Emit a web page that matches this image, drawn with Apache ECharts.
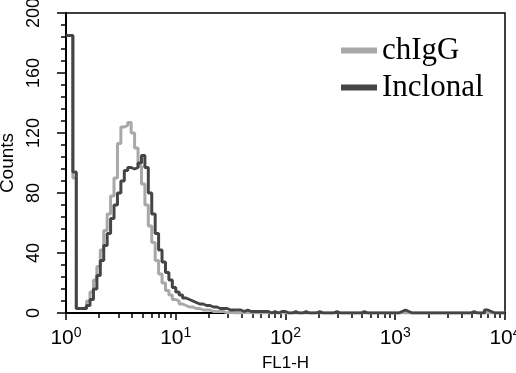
<!DOCTYPE html>
<html>
<head>
<meta charset="utf-8">
<script src="https://cdn.jsdelivr.net/npm/echarts@6/dist/echarts.min.js"></script>
<style>
  html, body { margin: 0; padding: 0; background: #fff; }
  #chart { width: 516px; height: 373px; }
</style>
</head>
<body>
<div id="chart"></div>
<script>
// FL1-H histogram, 128 channels over 4 log decades (1 .. 10^4)
var channelsPerDecade = 32;

var seriesNames = ['chIgG', 'Inclonal'];

var chIgG = [
  185, 185, 90, 3, 3, 4, 8, 14, 22, 31,
  42, 55, 66, 78, 90, 113, 124, 125, 127, 120,
  110, 98, 86, 72, 58, 47, 35, 26, 20, 15,
  12, 9, 8, 6, 5, 4, 4, 3, 3, 2,
  2, 2, 1, 1, 1, 1, 0, 1, 0, 0,
  0, 0, 1, 0, 0, 0, 0, 0, 0, 0,
  0, 0, 0, 0, 0, 0, 0, 0, 0, 0,
  0, 0, 0, 0, 0, 0, 0, 0, 0, 0,
  0, 0, 0, 0, 0, 0, 0, 0, 0, 0,
  0, 0, 0, 0, 0, 0, 0, 0, 0, 0,
  0, 0, 0, 0, 0, 0, 0, 0, 0, 0,
  0, 0, 0, 0, 0, 0, 0, 0, 0, 0,
  0, 0, 0, 0, 0, 0, 0, 0
];

var inclonal = [
  185, 185, 94, 3, 3, 3, 5, 9, 16, 25,
  35, 45, 53, 63, 72, 80, 88, 95, 97, 96,
  97, 100, 105, 97, 80, 66, 53, 42, 34, 27,
  22, 17, 14, 12, 10, 9, 8, 7, 6, 6,
  5, 5, 4, 4, 3, 3, 3, 2, 2, 2,
  2, 1, 2, 1, 1, 1, 1, 1, 1, 0,
  1, 0, 1, 1, 0, 0, 1, 0, 0, 1,
  0, 0, 0, 1, 0, 0, 0, 0, 1, 0,
  0, 0, 0, 0, 0, 0, 1, 0, 0, 0,
  0, 0, 0, 0, 0, 0, 0, 1, 2, 1,
  0, 0, 0, 0, 0, 0, 0, 0, 0, 0,
  0, 0, 0, 0, 0, 0, 0, 0, 1, 0,
  0, 0, 2, 1, 0, 0, 0, 0
];

var decadeTicks = [1, 10, 100, 1000, 10000];
var minorTicks = [];
decadeTicks.slice(0, 4).forEach(function (d) {
  for (var k = 2; k <= 9; k++) minorTicks.push(d * k);
});

// channel -> FL1 value (left edge of each channel), plus a closing point
function toPoints(counts) {
  var pts = counts.map(function (c, i) {
    return [Math.pow(10, i / channelsPerDecade), c];
  });
  pts.push([Math.pow(10, counts.length / channelsPerDecade), counts[counts.length - 1]]);
  return pts;
}

var myChart = echarts.init(document.getElementById('chart'));

var labelFont = 'Liberation Sans';

var option = {
  animation: false,
  grid: {
    left: 66, right: 11, top: 13, bottom: 60,
    outerBoundsMode: 'none',
    containLabel: false,
    show: true, borderColor: '#000', borderWidth: 1.5, backgroundColor: 'transparent'
  },
  legend: {
    orient: 'vertical',
    left: 336,
    top: 30,
    icon: 'rect',
    itemWidth: 36,
    itemHeight: 6,
    itemGap: 6,
    data: seriesNames,
    textStyle: { fontFamily: 'Liberation Serif', fontSize: 31, color: '#000' }
  },
  xAxis: [{
    type: 'log',
    logBase: 10,
    min: 1,
    max: 10000,
    name: 'FL1-H',
    nameLocation: 'middle',
    nameGap: 42,
    nameTextStyle: { fontFamily: labelFont, fontSize: 17, color: '#000' },
    axisLine: { lineStyle: { color: '#000', width: 2 } },
    axisTick: { show: true, length: 7, lineStyle: { color: '#000', width: 1.5 }, customValues: decadeTicks },
    axisLabel: {
      customValues: decadeTicks,
      margin: 13,
      formatter: function (v) {
        return '{b|10}{s|' + Math.round(Math.log10(v)) + '}';
      },
      rich: {
        b: { fontFamily: labelFont, fontSize: 21, color: '#000', lineHeight: 23, verticalAlign: 'bottom' },
        s: { fontFamily: labelFont, fontSize: 14, color: '#000', lineHeight: 14, verticalAlign: 'top' }
      }
    },
    splitLine: { show: false }
  }, {
    type: 'log',
    logBase: 10,
    min: 1,
    max: 10000,
    position: 'bottom',
    axisLine: { show: false },
    axisTick: { show: true, length: 5, lineStyle: { color: '#000', width: 1.5 }, customValues: minorTicks },
    axisLabel: { show: false },
    splitLine: { show: false }
  }],
  yAxis: {
    type: 'value',
    min: 0,
    max: 200,
    interval: 40,
    name: 'Counts',
    nameLocation: 'middle',
    nameGap: 44,
    nameRotate: 90,
    nameTextStyle: { fontFamily: labelFont, fontSize: 19, color: '#000' },
    axisLine: { show: true, lineStyle: { color: '#000', width: 2 } },
    axisTick: { show: true, length: 9, lineStyle: { color: '#000', width: 1.5 } },
    minorTick: { show: true, splitNumber: 5, length: 5, lineStyle: { color: '#000', width: 1.5 } },
    axisLabel: {
      rotate: 90,
      margin: 23,
      fontFamily: labelFont,
      fontSize: 18,
      color: '#000'
    },
    splitLine: { show: false }
  },
  series: [{
    name: seriesNames[0],
    type: 'line',
    step: 'end',
    showSymbol: false,
    data: toPoints(chIgG),
    itemStyle: { color: '#a8a8a8' },
    lineStyle: { color: '#a8a8a8', width: 3 }
  }, {
    name: seriesNames[1],
    type: 'line',
    step: 'end',
    showSymbol: false,
    data: toPoints(inclonal),
    itemStyle: { color: '#454545' },
    lineStyle: { color: '#454545', width: 3 }
  }]
};

myChart.setOption(option);
</script>
</body>
</html>
